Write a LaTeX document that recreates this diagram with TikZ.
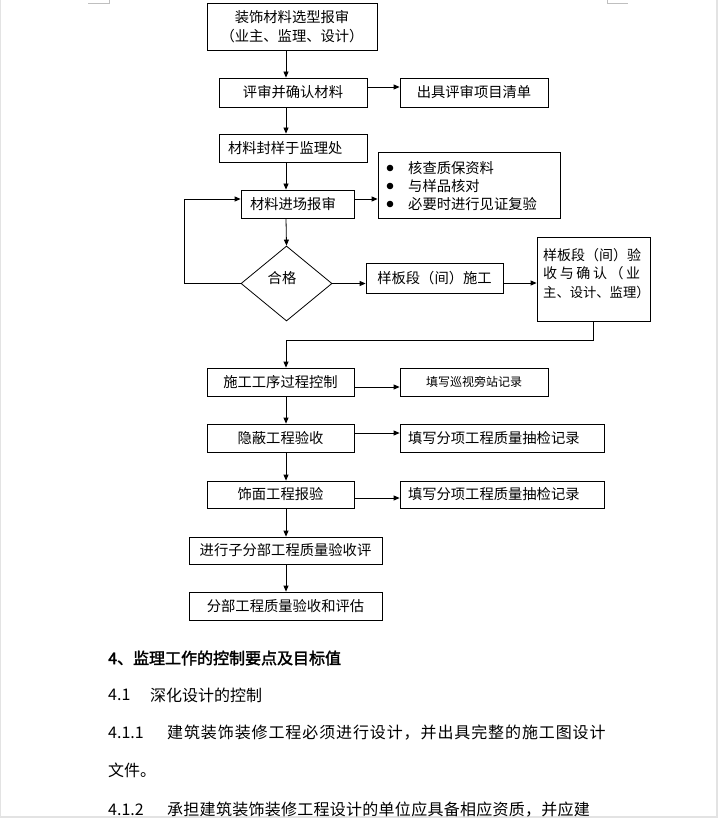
\documentclass[tikz,border=0pt]{standalone}
\usepackage{fontspec}
\setmainfont{Noto Sans CJK SC}[AutoFakeBold=2]
\newfontfamily\bodyA{Noto Sans CJK SC}[LetterSpace=5.6]
\newfontfamily\bodyB{Noto Sans CJK SC}[LetterSpace=1.7]
\usetikzlibrary{arrows.meta,shapes.geometric}
\begin{document}
\begin{tikzpicture}[x=1pt,y=-1pt,
  box/.style={draw=black,line width=0.8pt,rectangle,inner sep=0pt,font=\fontsize{14.3}{18}\selectfont},
  arr/.style={draw=black,line width=0.8pt,-{Triangle[length=6pt,width=5pt]}},
  body/.style={anchor=west,inner sep=0pt,font=\fontsize{16}{20}\selectfont},
  cornermark/.style={draw=black!25,line width=0.8pt}]
\useasboundingbox (0,0) rectangle (718,818);
\fill[white] (0,0) rectangle (718,818);
% page frame
\fill[black!11] (715.5,0) rectangle (718,818);
\fill[black!11] (0,815.5) rectangle (718,818);
\fill[black!11] (0,0) rectangle (1,818);
\draw[cornermark] (88,3) -- (109,3) -- (109,0);
\draw[cornermark] (607,0) -- (607,3) -- (628,3);
\coordinate (X) at (286,0);
% boxes
\node[box,minimum width=170pt,minimum height=47pt,align=center] (b1) at (292,26.5)
  {装饰材料选型报审\\[1pt]（业主、监理、设计）};
\node[box,minimum width=148pt,minimum height=29pt] (b2) at (293,92.5) {评审并确认材料};
\node[box,minimum width=148pt,minimum height=29pt] (r2) at (474,92.5) {出具评审项目清单};
\node[box,minimum height=28pt,text width=130pt,inner xsep=9pt,align=left] (b3) at (293,148) {材料封样于监理处};
\node[box,minimum height=28pt,text width=95pt,inner xsep=9pt,align=left] (b4) at (297.5,204) {材料进场报审};
\node[box,minimum width=182pt,minimum height=66pt] (bl) at (469,185) {};
\foreach \yy/\txt [count=\i] in {168/核查质保资料,186/与样品核对,204/必要时进行见证复验}{
  \fill (390,\yy) circle (3.3pt);
  \node[anchor=west,inner sep=0pt,font=\fontsize{14.3}{18}\selectfont] (bt\i) at (408,\yy) {\txt};
}
\node[draw=black,line width=0.8pt,diamond,minimum width=91pt,minimum height=75pt,inner sep=0pt] (dia) at (286.5,283.5) {};
\node[inner sep=0pt,font=\fontsize{14.3}{18}\selectfont] (hg) at (282,278) {合格};
\node[box,minimum width=137pt,minimum height=30pt] (s1) at (434.5,278) {样板段（间）施工};
\node[box,minimum width=113pt,minimum height=84pt] (s2) at (593.5,279) {};
\node[anchor=west,inner sep=0pt,font=\fontsize{14}{18}\selectfont] (s2a) at (543,255) {样板段（间）验};
\node[anchor=west,inner sep=0pt,font=\fontsize{14}{18}\selectfont] (s2b) at (543,273.5) {\makebox[97pt][s]{收\hfil 与\hfil 确\hfil 认\hfil （\hfil 业}};
\node[anchor=west,inner sep=0pt,font=\fontsize{13.3}{18}\selectfont] (s2c) at (543,292) {主、设计、监理）};
\node[box,minimum width=147pt,minimum height=28pt] (c1) at (280.5,382) {施工工序过程控制};
\node[box,minimum width=148pt,minimum height=28pt,font=\fontsize{12}{16}\selectfont] (rc1) at (474,382) {填写巡视旁站记录};
\node[box,minimum width=147pt,minimum height=28pt] (c2) at (280.5,438) {隐蔽工程验收};
\node[box,minimum height=28pt,text width=188pt,inner xsep=8pt,align=left] (rc2) at (502,438) {填写分项工程质量抽检记录};
\node[box,minimum width=147pt,minimum height=27pt] (c3) at (280.5,494.5) {饰面工程报验};
\node[box,minimum height=27pt,text width=188pt,inner xsep=8pt,align=left] (rc3) at (502,494.5) {填写分项工程质量抽检记录};
\node[box,minimum width=193pt,minimum height=27pt] (c4) at (285.5,550.5) {进行子分部工程质量验收评};
\node[box,minimum width=193pt,minimum height=28pt] (c5) at (285.5,606) {分部工程质量验收和评估};
% connectors
\draw[arr] (b1.south -| X) -- (b2.north -| X);
\draw[arr] (b2.south -| X) -- (b3.north -| X);
\draw[arr] (b3.south -| X) -- (b4.north -| X);
\draw[arr] (b4.south -| X) -- (dia.north);
\draw[arr] (b2.east |- 0,87) -- (r2.west |- 0,87);
\draw[arr] (b4.east |- 0,199) -- (bl.west |- 0,199);
\draw[arr] (dia.west) -- ++(-56,0) |- (b4.west |- 0,199);
\draw[arr] (dia.east) -- (s1.west |- dia.east);
\draw[arr] (s1.east |- 0,283) -- (s2.west |- 0,283);
\draw[arr] (s2.south) -- (s2.south |- 0,340) -| (c1.north -| X);
\draw[arr] (c1.south -| X) -- (c2.north -| X);
\draw[arr] (c2.south -| X) -- (c3.north -| X);
\draw[arr] (c3.south -| X) -- (c4.north -| X);
\draw[arr] (c4.south -| X) -- (c5.north -| X);
\draw[arr] (c1.east |- 0,387) -- (rc1.west |- 0,387);
\draw[arr] (c2.east |- 0,433) -- (rc2.west |- 0,433);
\draw[arr] (c3.east |- 0,498) -- (rc3.west |- 0,498);
% body text
\node[body,font=\fontsize{16}{20}\selectfont\bfseries] (h4) at (108,658) {4、监理工作的控制要点及目标值};
\node[body] (n41) at (108,695) {4.1};
\node[body] (t41) at (150,695) {深化设计的控制};
\node[body] (n411) at (108,733) {4.1.1};
\node[body,font=\fontsize{16}{20}\bodyA] (t411) at (167,733) {建筑装饰装修工程必须进行设计，并出具完整的施工图设计};
\node[body] (t411b) at (108,770) {文件。};
\node[body] (n412) at (108,810) {4.1.2};
\node[body,font=\fontsize{16}{20}\bodyB] (t412) at (167,810) {承担建筑装饰装修工程设计的单位应具备相应资质，并应建};
\end{tikzpicture}
\end{document}
